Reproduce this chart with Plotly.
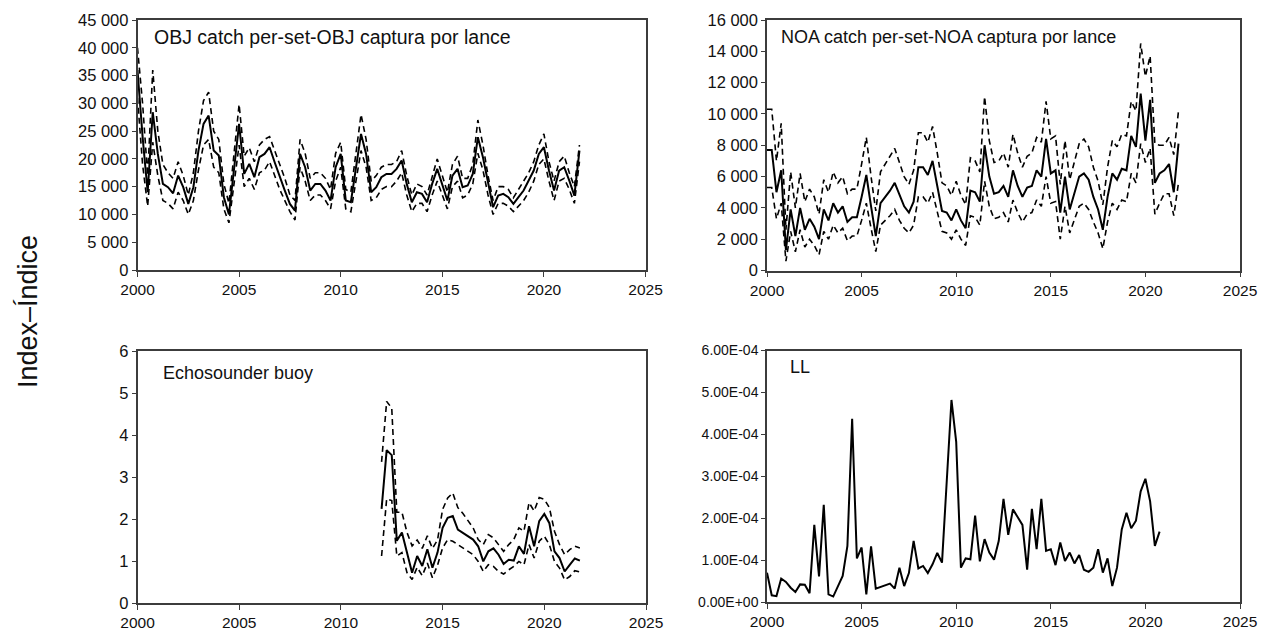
import plotly.graph_objects as go
from plotly.subplots import make_subplots

# quarterly indices, first quarter of each series given by *_start
obj_start = 2000.0
obj_index = [36000, 24000, 14000, 28400, 20900, 15500, 14900, 13800, 17000, 14900,
             11900, 14900, 21500, 26300, 27800, 21500, 20600, 13100, 10000, 18500,
             26300, 17300, 19100, 16700, 20300, 20900, 22100, 19400, 16700, 14300,
             11900, 10700, 20900, 18500, 14300, 15500, 15500, 14300, 12500, 18500,
             20900, 12500, 12200, 18500, 24500, 20900, 14000, 14900, 16700, 17300,
             17300, 18200, 19700, 15500, 12200, 14000, 13700, 12200, 15500, 18200,
             15500, 12500, 17000, 18200, 14900, 15200, 17300, 23900, 20300, 15500,
             11300, 13400, 13700, 13100, 11900, 13100, 14300, 16100, 17900, 20900,
             22100, 17900, 14300, 17900, 18500, 16100, 13400, 21500]
obj_upper = [40000, 30000, 17000, 36000, 25000, 19000, 17500, 16500, 19500, 17000,
             13500, 17500, 25000, 30500, 32000, 25000, 23500, 15500, 12000, 21500,
             29800, 20500, 22000, 19500, 22500, 23500, 24000, 21500, 19000, 16500,
             13500, 12500, 23500, 21000, 16500, 17500, 17500, 16500, 14500, 21000,
             23000, 14500, 14000, 21000, 28000, 23500, 16000, 17000, 18500, 19000,
             19000, 19500, 21500, 17000, 13500, 15500, 15000, 13500, 17000, 20000,
             17000, 14000, 19000, 20500, 16500, 16500, 19000, 27000, 22500, 17000,
             12500, 15000, 15000, 14500, 13000, 14500, 16000, 17500, 19500, 22500,
             24500, 19500, 16000, 19500, 20500, 17500, 15000, 22500]
obj_lower = [31000, 19000, 11500, 23000, 17000, 12500, 12000, 11000, 14000, 12500,
             10000, 12500, 18000, 22500, 23500, 18500, 17500, 11000, 8500, 15500,
             22500, 15000, 16500, 14500, 17500, 18000, 19500, 17000, 14500, 12500,
             10500, 9000, 18500, 16000, 12500, 13500, 13500, 12500, 11000, 16000,
             18500, 11000, 10500, 16000, 21500, 18500, 12500, 13000, 14500, 15000,
             15000, 16000, 17500, 13500, 10500, 12000, 12000, 10500, 13500, 16000,
             13500, 11000, 15000, 16000, 13000, 13500, 15500, 21000, 18000, 13500,
             10000, 12000, 12000, 11500, 10500, 11500, 12500, 14000, 16000, 19000,
             20000, 16000, 12500, 16000, 16500, 14500, 12000, 19500]

noa_start = 2000.0
noa_index = [7700, 7700, 5000, 6400, 1300, 3900, 2200, 4000, 2600, 3300,
             2800, 2000, 3900, 3200, 4300, 3700, 4100, 3100, 3400, 3400,
             4700, 6100, 4100, 2200, 4300, 4700, 5100, 5600, 4800, 4100,
             3700, 4400, 6600, 6600, 6100, 7000, 5400, 3800, 3700, 3200,
             3900, 3200, 2700, 5100, 5000, 4400, 8000, 6000, 4900, 5000,
             5400, 4700, 6400, 5400, 4700, 5300, 5400, 6400, 6000, 8400,
             6200, 6400, 3700, 6000, 3900, 4900, 6000, 6200, 5800, 4700,
             3900, 2600, 4700, 6200, 5800, 6500, 6400, 8600, 7900, 11300,
             8300, 10900, 5600, 6200, 6400, 6800, 5000, 8100]
noa_upper = [10300, 10300, 7000, 9400, 2600, 6300, 4000, 6200, 4400, 5200,
             4700, 3600, 5800, 5000, 6300, 5600, 6000, 4900, 5200, 5200,
             6800, 8500, 6000, 3800, 6300, 6800, 7300, 7800, 6900, 6000,
             5500, 6400, 8800, 8800, 8200, 9200, 7500, 5600, 5400, 4800,
             5700, 4800, 4200, 7200, 7000, 6300, 11100, 8300, 6900, 7000,
             7500, 6600, 8700, 7500, 6600, 7300, 7500, 8500, 8200, 10800,
             8400, 8600, 5500, 8300, 5800, 6900, 8100, 8400, 7900, 6600,
             5700, 4200, 6600, 8300, 7900, 8700, 8600, 10800, 10200, 14500,
             12400, 13700, 8100, 8000, 8000, 8500, 7400, 10200]
noa_lower = [5300, 5300, 3300, 4300, 600, 2500, 1200, 2600, 1500, 2000,
             1600, 1000, 2500, 2000, 2900, 2400, 2700, 1900, 2200, 2200,
             3200, 4300, 2700, 1200, 2900, 3200, 3500, 3900, 3200, 2700,
             2400, 2900, 4700, 4700, 4300, 5000, 3700, 2500, 2400, 2000,
             2600, 2000, 1600, 3500, 3400, 2900, 5700, 4100, 3300, 3400,
             3700, 3100, 4500, 3700, 3100, 3600, 3700, 4500, 4100, 6000,
             4300, 4400, 2000, 4100, 2400, 3300, 4100, 4300, 3900, 3100,
             2400, 1400, 3100, 4300, 3900, 4500, 4400, 6200, 5600, 8100,
             6900, 7800, 3600, 4300, 4900, 4900, 3500, 5600]

eco_start = 2012.0
eco_index = [2.24, 3.64, 3.52, 1.48, 1.68, 1.20, 0.72, 1.12, 0.88, 1.28,
             0.84, 1.20, 1.79, 2.03, 2.07, 1.75, 1.67, 1.59, 1.51, 1.35,
             0.99, 1.23, 1.30, 1.15, 0.93, 1.03, 1.01, 1.35, 1.17, 1.83,
             1.35, 1.95, 2.12, 1.90, 1.23, 1.07, 0.75, 0.91, 1.06, 1.01]
eco_upper = [3.36, 4.80, 4.64, 2.16, 2.16, 1.68, 1.36, 1.50, 1.30, 1.60,
             1.30, 1.50, 2.23, 2.50, 2.62, 2.27, 2.13, 1.95, 1.79, 1.51,
             1.39, 1.63, 1.55, 1.39, 1.23, 1.39, 1.51, 1.79, 1.71, 2.39,
             2.19, 2.51, 2.47, 2.27, 1.71, 1.39, 1.15, 1.27, 1.35, 1.31]
eco_lower = [1.12, 2.48, 2.44, 1.12, 1.20, 0.72, 0.56, 0.85, 0.65, 0.95,
             0.60, 0.90, 1.31, 1.51, 1.47, 1.39, 1.31, 1.25, 1.15, 0.99,
             0.75, 0.91, 0.87, 0.75, 0.69, 0.79, 0.87, 0.99, 0.91, 1.39,
             1.07, 1.47, 1.59, 1.39, 0.99, 0.83, 0.55, 0.63, 0.77, 0.74]

ll_start = 2000.0
ll_index = [0.70e-4, 0.16e-4, 0.14e-4, 0.56e-4, 0.48e-4, 0.34e-4, 0.24e-4, 0.42e-4, 0.41e-4, 0.21e-4,
            1.84e-4, 0.61e-4, 2.32e-4, 0.18e-4, 0.13e-4, 0.38e-4, 0.62e-4, 1.34e-4, 4.37e-4, 1.04e-4,
            1.30e-4, 0.18e-4, 1.33e-4, 0.32e-4, 0.36e-4, 0.40e-4, 0.44e-4, 0.32e-4, 0.82e-4, 0.38e-4,
            0.69e-4, 1.46e-4, 0.80e-4, 0.86e-4, 0.69e-4, 0.90e-4, 1.17e-4, 0.94e-4, 2.90e-4, 4.82e-4,
            3.82e-4, 0.82e-4, 1.04e-4, 1.02e-4, 2.06e-4, 0.97e-4, 1.50e-4, 1.18e-4, 1.01e-4, 1.46e-4,
            2.46e-4, 1.60e-4, 2.21e-4, 2.02e-4, 1.84e-4, 0.77e-4, 2.22e-4, 1.26e-4, 2.46e-4, 1.22e-4,
            1.26e-4, 0.88e-4, 1.42e-4, 0.98e-4, 1.18e-4, 0.92e-4, 1.12e-4, 0.77e-4, 0.72e-4, 0.82e-4,
            1.26e-4, 0.70e-4, 1.04e-4, 0.38e-4, 0.82e-4, 1.73e-4, 2.13e-4, 1.76e-4, 1.94e-4, 2.64e-4,
            2.94e-4, 2.40e-4, 1.34e-4, 1.68e-4]

obj_ticks = [0, 5000, 10000, 15000, 20000, 25000, 30000, 35000, 40000, 45000]
obj_ticktext = ["0", "5 000", "10 000", "15 000", "20 000", "25 000", "30 000", "35 000", "40 000", "45 000"]
noa_ticks = [0, 2000, 4000, 6000, 8000, 10000, 12000, 14000, 16000]
noa_ticktext = ["0", "2 000", "4 000", "6 000", "8 000", "10 000", "12 000", "14 000", "16 000"]
eco_ticks = [0, 1, 2, 3, 4, 5, 6]
ll_ticks = [0, 1e-4, 2e-4, 3e-4, 4e-4, 5e-4, 6e-4]
ll_ticktext = ["0.00E+00", "1.00E-04", "2.00E-04", "3.00E-04", "4.00E-04", "5.00E-04", "6.00E-04"]
year_ticks = [2000, 2005, 2010, 2015, 2020, 2025]

FONT = "Liberation Sans, Arial, sans-serif"
W, H = 1270, 635


def quarters(start, n):
    return [start + 0.25 * i for i in range(n)]


def add_series(fig, row, col, start, mid, lo=None, hi=None):
    x = quarters(start, len(mid))
    for band in (lo, hi):
        if band is not None:
            fig.add_trace(go.Scatter(x=x, y=band, mode="lines",
                                     line=dict(color="black", width=1.6, dash="6px,4px")),
                          row=row, col=col)
    fig.add_trace(go.Scatter(x=x, y=mid, mode="lines",
                             line=dict(color="black", width=2)),
                  row=row, col=col)


fig = make_subplots(rows=2, cols=2)
add_series(fig, 1, 1, obj_start, obj_index, obj_lower, obj_upper)
add_series(fig, 1, 2, noa_start, noa_index, noa_lower, noa_upper)
add_series(fig, 2, 1, eco_start, eco_index, eco_lower, eco_upper)
add_series(fig, 2, 2, ll_start, ll_index)

# panel positions in pixels: (left, right, top, bottom)
panels = {
    1: (137.5, 645.5, 20, 270),
    2: (767, 1240, 20, 270.5),
    3: (137.5, 646, 351, 603),
    4: (767, 1240, 350.5, 602),
}
yspec = {
    1: dict(range=[0, 45000], tickvals=obj_ticks, ticktext=obj_ticktext),
    2: dict(range=[0, 16000], tickvals=noa_ticks, ticktext=noa_ticktext),
    3: dict(range=[0, 6], tickvals=eco_ticks),
    4: dict(range=[0, 6e-4], tickvals=ll_ticks, ticktext=ll_ticktext),
}
ytick_size = {1: 16.5, 2: 16.5, 3: 16.5, 4: 14}
axis_common = dict(showline=True, mirror=True, linecolor="#3c3c3c", linewidth=1.5,
                   showgrid=False, zeroline=False, ticks="outside", tickcolor="#3c3c3c",
                   tickwidth=1.2, automargin=False)
for k, (l, r, t, b) in panels.items():
    sx = "" if k == 1 else str(k)
    fig.layout["xaxis" + sx].update(domain=[l / W, r / W], range=[2000, 2025],
                                    tickvals=year_ticks, ticklen=5,
                                    tickfont=dict(family=FONT, size=15.5, color="#111111"),
                                    **axis_common)
    fig.layout["yaxis" + sx].update(domain=[1 - b / H, 1 - t / H], ticklen=4,
                                    tickfont=dict(family=FONT, size=ytick_size[k], color="#111111"),
                                    **yspec[k], **axis_common)

labels = [
    ("OBJ catch per-set-OBJ captura por lance", 152, 37, 19.5),
    ("NOA catch per-set-NOA captura por lance", 779, 37, 18),
    ("Echosounder buoy", 161, 373, 18),
    ("LL", 788, 367, 18),
]
annotations = []
for text, px, py, size in labels:
    annotations.append(dict(xref="paper", yref="paper", x=px / W, y=1 - py / H,
                            xanchor="left", yanchor="middle", text=text, showarrow=False,
                            font=dict(family=FONT, size=size, color="#111111")))
annotations.append(dict(xref="paper", yref="paper", x=28 / W, y=1 - 312 / H,
                        xanchor="center", yanchor="middle", text="Index–Índice",
                        textangle=-90, showarrow=False,
                        font=dict(family=FONT, size=27, color="#111111")))

fig.update_layout(width=W, height=H, margin=dict(l=0, r=0, t=0, b=0),
                  showlegend=False, plot_bgcolor="white", paper_bgcolor="white",
                  annotations=annotations)

# the page body has a default 8px margin; drop it so the figure fills the window
fig.write_html("out.html", config={"displayModeBar": False},
               post_script="document.body.style.margin='0';document.body.style.overflow='hidden';")
